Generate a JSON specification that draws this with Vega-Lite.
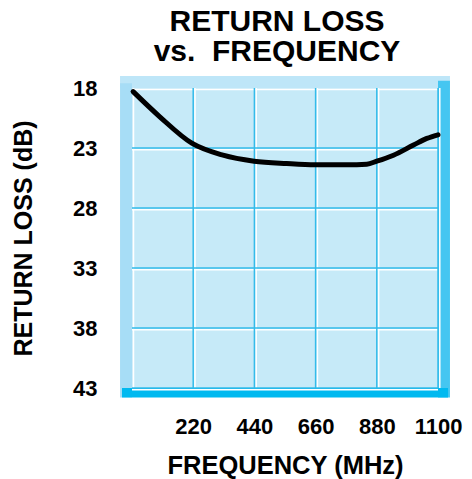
{
  "$schema": "https://vega.github.io/schema/vega-lite/v6.json",
  "width": 306,
  "height": 300,
  "autosize": {"type": "none"},
  "padding": {"left": 132, "top": 88, "right": 34, "bottom": 91},
  "background": "white",
  "config": {
    "view": {"stroke": null},
    "font": "Liberation Sans",
    "axis": {
      "grid": false,
      "ticks": false,
      "domain": false,
      "format": "d",
      "labelFont": "Liberation Sans",
      "labelFontWeight": "bold",
      "labelFontSize": 22,
      "labelColor": "black",
      "labelFlush": false,
      "labelOverlap": false,
      "titleFont": "Liberation Sans",
      "titleFontWeight": "bold",
      "titleColor": "black"
    },
    "axisX": {"labelPadding": 28, "titleFontSize": 25.5, "titlePadding": 16},
    "axisY": {"labelPadding": 35, "titleFontSize": 25, "titlePadding": 36}
  },
  "title": {
    "text": ["RETURN LOSS", "vs.\u00a0 FREQUENCY"],
    "font": "Liberation Sans",
    "fontSize": 30,
    "fontWeight": "bold",
    "color": "black",
    "lineHeight": 30,
    "anchor": "middle",
    "dx": -8,
    "offset": 9
  },
  "datasets": {
    "curve": [
      {"freq": 4, "rl": 18.3},
      {"freq": 100, "rl": 20.4},
      {"freq": 215, "rl": 22.6},
      {"freq": 327, "rl": 23.6},
      {"freq": 439, "rl": 24.1},
      {"freq": 556, "rl": 24.3},
      {"freq": 658, "rl": 24.4},
      {"freq": 772, "rl": 24.4},
      {"freq": 844, "rl": 24.35},
      {"freq": 880, "rl": 24.1},
      {"freq": 940, "rl": 23.6},
      {"freq": 1012, "rl": 22.75},
      {"freq": 1060, "rl": 22.2},
      {"freq": 1100, "rl": 21.9}
    ],
    "xgrid": [{"f": 220}, {"f": 440}, {"f": 660}, {"f": 880}, {"f": 1100}],
    "ygrid": [{"r": 23}, {"r": 28}, {"r": 33}, {"r": 38}, {"r": 43}],
    "one": [{}]
  },
  "layer": [
    {
      "data": {"name": "one"},
      "mark": {"type": "rect", "color": "#BEE6F8"},
      "encoding": {
        "x": {"datum": -43, "type": "quantitative", "scale": {"domain": [0, 1100], "nice": false}, "axis": {"values": [220, 440, 660, 880, 1100], "title": "FREQUENCY (MHz)"}},
        "x2": {"datum": 1143},
        "y": {"datum": 17, "type": "quantitative", "scale": {"domain": [18, 43], "nice": false, "reverse": true}, "axis": {"values": [18, 23, 28, 33, 38, 43], "title": "RETURN LOSS (dB)"}},
        "y2": {"datum": 18}
      }
    },
    {
      "data": {"name": "one"},
      "mark": {"type": "rect", "color": "#A7DDF6"},
      "encoding": {
        "x": {"datum": -43, "type": "quantitative", "scale": {"domain": [0, 1100], "nice": false}, "axis": {"values": [220, 440, 660, 880, 1100], "title": "FREQUENCY (MHz)"}},
        "x2": {"datum": 0},
        "y": {"datum": 17.6, "type": "quantitative", "scale": {"domain": [18, 43], "nice": false, "reverse": true}, "axis": {"values": [18, 23, 28, 33, 38, 43], "title": "RETURN LOSS (dB)"}},
        "y2": {"datum": 43.8}
      }
    },
    {
      "data": {"name": "one"},
      "mark": {"type": "rect", "color": "#45C6F1"},
      "encoding": {
        "x": {"datum": 1100, "type": "quantitative", "scale": {"domain": [0, 1100], "nice": false}, "axis": {"values": [220, 440, 660, 880, 1100], "title": "FREQUENCY (MHz)"}},
        "x2": {"datum": 1143},
        "y": {"datum": 17.4, "type": "quantitative", "scale": {"domain": [18, 43], "nice": false, "reverse": true}, "axis": {"values": [18, 23, 28, 33, 38, 43], "title": "RETURN LOSS (dB)"}},
        "y2": {"datum": 43.8}
      }
    },
    {
      "data": {"name": "one"},
      "mark": {"type": "rect", "color": "#00B9F0"},
      "encoding": {
        "x": {"datum": -36, "type": "quantitative", "scale": {"domain": [0, 1100], "nice": false}, "axis": {"values": [220, 440, 660, 880, 1100], "title": "FREQUENCY (MHz)"}},
        "x2": {"datum": 1136},
        "y": {"datum": 43, "type": "quantitative", "scale": {"domain": [18, 43], "nice": false, "reverse": true}, "axis": {"values": [18, 23, 28, 33, 38, 43], "title": "RETURN LOSS (dB)"}},
        "y2": {"datum": 43.8}
      }
    },
    {
      "data": {"name": "one"},
      "mark": {"type": "rect", "color": "#C6EAF8"},
      "encoding": {
        "x": {"datum": 0, "type": "quantitative", "scale": {"domain": [0, 1100], "nice": false}, "axis": {"values": [220, 440, 660, 880, 1100], "title": "FREQUENCY (MHz)"}},
        "x2": {"datum": 1100},
        "y": {"datum": 18, "type": "quantitative", "scale": {"domain": [18, 43], "nice": false, "reverse": true}, "axis": {"values": [18, 23, 28, 33, 38, 43], "title": "RETURN LOSS (dB)"}},
        "y2": {"datum": 43}
      }
    },
    {
      "data": {"name": "one"},
      "mark": {"type": "rule", "color": "white", "strokeWidth": 1.5, "xOffset": 1.5},
      "encoding": {
        "x": {"datum": 0, "type": "quantitative", "scale": {"domain": [0, 1100], "nice": false}, "axis": {"values": [220, 440, 660, 880, 1100], "title": "FREQUENCY (MHz)"}},
        "y": {"datum": 18, "type": "quantitative", "scale": {"domain": [18, 43], "nice": false, "reverse": true}, "axis": {"values": [18, 23, 28, 33, 38, 43], "title": "RETURN LOSS (dB)"}},
        "y2": {"datum": 43}
      }
    },
    {
      "data": {"name": "one"},
      "mark": {"type": "rule", "color": "white", "strokeWidth": 1.5, "yOffset": 1.5},
      "encoding": {
        "y": {"datum": 18, "type": "quantitative", "scale": {"domain": [18, 43], "nice": false, "reverse": true}, "axis": {"values": [18, 23, 28, 33, 38, 43], "title": "RETURN LOSS (dB)"}},
        "x": {"datum": 0, "type": "quantitative", "scale": {"domain": [0, 1100], "nice": false}, "axis": {"values": [220, 440, 660, 880, 1100], "title": "FREQUENCY (MHz)"}},
        "x2": {"datum": 1100}
      }
    },
    {
      "data": {"name": "xgrid"},
      "mark": {"type": "rule", "color": "white", "strokeWidth": 1.5, "xOffset": 1.8},
      "encoding": {
        "x": {"field": "f", "type": "quantitative", "scale": {"domain": [0, 1100], "nice": false}, "axis": {"values": [220, 440, 660, 880, 1100], "title": "FREQUENCY (MHz)"}},
        "y": {"datum": 18, "type": "quantitative", "scale": {"domain": [18, 43], "nice": false, "reverse": true}, "axis": {"values": [18, 23, 28, 33, 38, 43], "title": "RETURN LOSS (dB)"}},
        "y2": {"datum": 43}
      }
    },
    {
      "data": {"name": "ygrid"},
      "mark": {"type": "rule", "color": "white", "strokeWidth": 1.5, "yOffset": 1.8},
      "encoding": {
        "y": {"field": "r", "type": "quantitative", "scale": {"domain": [18, 43], "nice": false, "reverse": true}, "axis": {"values": [18, 23, 28, 33, 38, 43], "title": "RETURN LOSS (dB)"}},
        "x": {"datum": 0, "type": "quantitative", "scale": {"domain": [0, 1100], "nice": false}, "axis": {"values": [220, 440, 660, 880, 1100], "title": "FREQUENCY (MHz)"}},
        "x2": {"datum": 1100}
      }
    },
    {
      "data": {"name": "xgrid"},
      "mark": {"type": "rule", "color": "#33BBEA", "strokeWidth": 1.5},
      "encoding": {
        "x": {"field": "f", "type": "quantitative", "scale": {"domain": [0, 1100], "nice": false}, "axis": {"values": [220, 440, 660, 880, 1100], "title": "FREQUENCY (MHz)"}},
        "y": {"datum": 18, "type": "quantitative", "scale": {"domain": [18, 43], "nice": false, "reverse": true}, "axis": {"values": [18, 23, 28, 33, 38, 43], "title": "RETURN LOSS (dB)"}},
        "y2": {"datum": 43}
      }
    },
    {
      "data": {"name": "ygrid"},
      "mark": {"type": "rule", "color": "#33BBEA", "strokeWidth": 1.5},
      "encoding": {
        "y": {"field": "r", "type": "quantitative", "scale": {"domain": [18, 43], "nice": false, "reverse": true}, "axis": {"values": [18, 23, 28, 33, 38, 43], "title": "RETURN LOSS (dB)"}},
        "x": {"datum": 0, "type": "quantitative", "scale": {"domain": [0, 1100], "nice": false}, "axis": {"values": [220, 440, 660, 880, 1100], "title": "FREQUENCY (MHz)"}},
        "x2": {"datum": 1100}
      }
    },
    {
      "data": {"name": "curve"},
      "mark": {"type": "line", "color": "black", "strokeWidth": 5, "interpolate": "monotone", "strokeCap": "round", "clip": false},
      "encoding": {
        "x": {"field": "freq", "type": "quantitative", "scale": {"domain": [0, 1100], "nice": false}, "axis": {"values": [220, 440, 660, 880, 1100], "title": "FREQUENCY (MHz)"}},
        "y": {"field": "rl", "type": "quantitative", "scale": {"domain": [18, 43], "nice": false, "reverse": true}, "axis": {"values": [18, 23, 28, 33, 38, 43], "title": "RETURN LOSS (dB)"}}
      }
    }
  ]
}
